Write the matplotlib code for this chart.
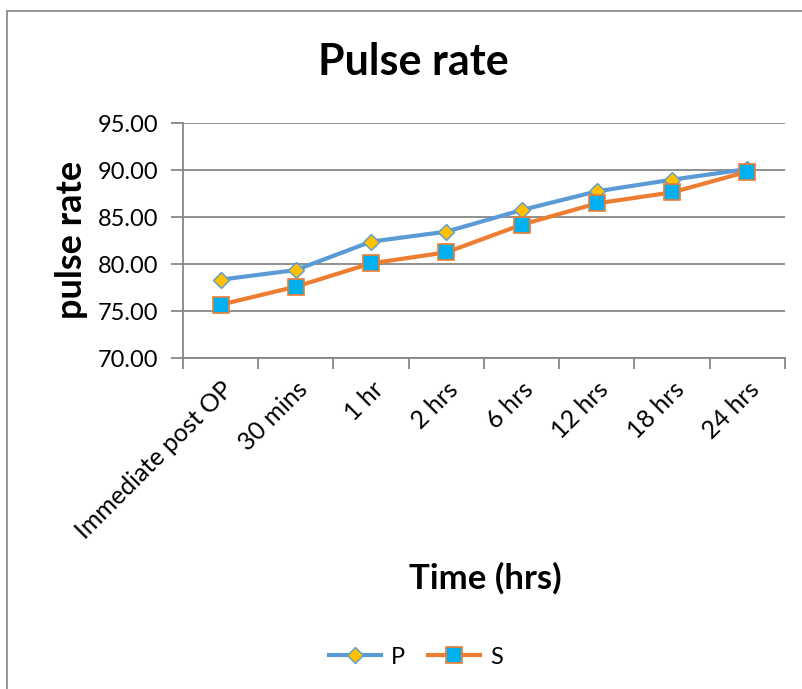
import matplotlib.pyplot as plt
import numpy as np
from matplotlib.patches import Rectangle

times = ['Immediate post OP', '30 mins', '1 hr', '2 hrs', '6 hrs', '12 hrs', '18 hrs', '24 hrs']
p_rate = [78.33, 79.36, 82.38, 83.44, 85.74, 87.73, 88.97, 90.10]
s_rate = [75.67, 77.59, 80.07, 81.24, 84.18, 86.45, 87.62, 89.82]

plt.rcParams['font.family'] = ['Lato', 'DejaVu Sans']
grid_col = '#878787'

fig = plt.figure(figsize=(8.03, 6.89), dpi=100)
ax = fig.add_axes([183 / 803, 1 - 358 / 689, (785 - 183) / 803, (358 - 123) / 689])

x = np.arange(len(times))
ax.plot(x, p_rate, color='#5B9BD5', linewidth=3, marker='D', markersize=8.5,
        markerfacecolor='#FFC000', markeredgecolor='#5B9BD5', markeredgewidth=1, label='P', zorder=3)
ax.plot(x, s_rate, color='#ED7D31', linewidth=3, marker='s', markersize=11,
        markerfacecolor='#00B0F0', markeredgecolor='#ED7D31', markeredgewidth=1.2, label='S', zorder=3)

ax.set_xlim(-0.5, len(times) - 0.5)
ax.set_ylim(70, 95)
ax.set_yticks(np.arange(70, 96, 5))
ax.set_yticklabels([f'{v:.2f}' for v in np.arange(70, 96, 5)], fontsize=17)
ax.yaxis.grid(True, color=grid_col, linewidth=1.3)
ax.set_axisbelow(True)

ax.set_xticks(x)
ax.set_xticklabels(times, rotation=45, ha='right', va='top', rotation_mode='anchor', fontsize=18)
ax.set_xticks(np.arange(-0.5, len(times)), minor=True)
ax.tick_params(axis='x', which='major', length=0, pad=14)
ax.tick_params(axis='x', which='minor', length=8, color=grid_col, width=1.3)
ax.tick_params(axis='y', length=9, color=grid_col, width=1.3, pad=9)

for side in ['top', 'right']:
    ax.spines[side].set_visible(False)
for side in ['left', 'bottom']:
    ax.spines[side].set_color(grid_col)
    ax.spines[side].set_linewidth(1.3)

fig.text(413 / 803, 1 - 62 / 689, 'Pulse rate', ha='center', va='center', fontsize=31, fontweight='bold')
fig.text(485 / 803, 1 - 578 / 689, 'Time (hrs)', ha='center', va='center', fontsize=25, fontweight='bold')
fig.text(72 / 803, 1 - 240 / 689, 'pulse rate', ha='center', va='center', fontsize=26, fontweight='bold', rotation=90)

fig.legend(loc='center', bbox_to_anchor=(416 / 803, 1 - 657 / 689), ncol=2, frameon=False,
           fontsize=17, handlelength=2.2, columnspacing=1.0, handletextpad=0.4)

# chart area outline (only left and top edges fall inside the image)
fig.patches.append(Rectangle((7 / 803, -0.1), 1.2, 1 - 11 / 689 + 0.1, transform=fig.transFigure,
                             fill=False, edgecolor='#8c8c8c', linewidth=1.3))

fig.savefig('out.png', dpi=100)
